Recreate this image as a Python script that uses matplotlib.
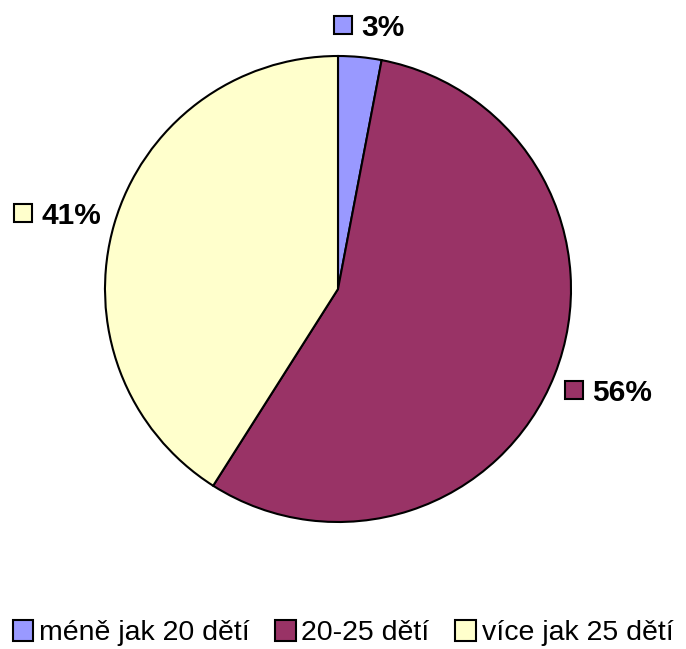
import matplotlib.pyplot as plt
from matplotlib.patches import Rectangle

categories = ['méně jak 20 dětí', '20-25 dětí', 'více jak 25 dětí']
values = [3, 56, 41]
colors = ['#9999FF', '#993366', '#FFFFCC']

plt.rcParams['font.family'] = ['Liberation Sans', 'DejaVu Sans']

fig = plt.figure(figsize=(6.86, 6.49), dpi=100)
# pie centre ~ (338, 289) px, radius ~233 px
ax = fig.add_axes([(338 - 233) / 686, (649 - 289 - 233) / 649, 466 / 686, 466 / 649])
wedges, _ = ax.pie(values, colors=colors, startangle=90, counterclock=False,
                   radius=1, wedgeprops=dict(edgecolor='black', linewidth=1.5))
ax.set_xlim(-1, 1)
ax.set_ylim(-1, 1)
ax.set_aspect('equal')

# data labels with a small colour key, positions in figure pixels
label_pos = [(361, 25), (592, 390), (41, 213)]
for (x, y), v, c in zip(label_pos, values, colors):
    fy = 1 - y / 649
    fig.patches.append(Rectangle(((x - 27) / 686, fy - 9 / 649), 18 / 686, 18 / 649,
                                 transform=fig.transFigure, facecolor=c,
                                 edgecolor='black', linewidth=1.5))
    fig.text(x / 686, fy, '%d%%' % v, fontsize=21.5, fontweight='bold',
             ha='left', va='center_baseline')

leg = fig.legend(wedges, categories, loc='center', bbox_to_anchor=(343 / 686, 1 - 633 / 649),
                 ncol=3, frameon=False, fontsize=20.5, handlelength=0.72, handleheight=0.8,
                 handletextpad=0.2, columnspacing=0.9, borderaxespad=0, borderpad=0)
for h in leg.legend_handles:
    h.set_linewidth(1.5)

fig.savefig('out.png', dpi=100)
